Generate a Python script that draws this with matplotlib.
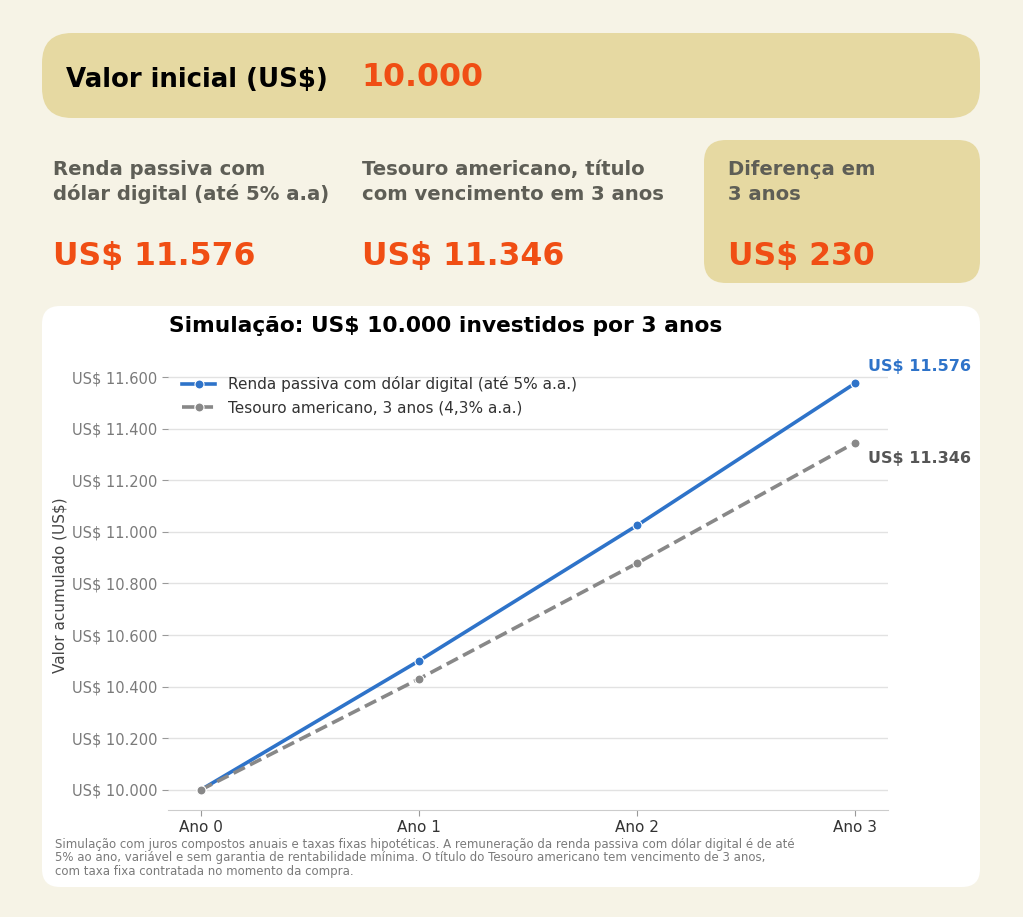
import matplotlib
matplotlib.use("Agg")
import matplotlib.pyplot as plt
from matplotlib.patches import FancyBboxPatch
from matplotlib.ticker import FuncFormatter

# -------------------------------------------------
# Data
# -------------------------------------------------
anos = ["Ano 0", "Ano 1", "Ano 2", "Ano 3"]
renda_passiva = [10000, 10500, 11025, 11576.25]
tesouro = [10000, 10430, 10878.49, 11346.26]

valor_inicial = "10.000"
card_labels = [
    "Renda passiva com\ndólar digital (até 5% a.a)",
    "Tesouro americano, título\ncom vencimento em 3 anos",
    "Diferença em\n3 anos",
]
card_values = ["US$ 11.576", "US$ 11.346", "US$ 230"]
serie_labels = [
    "Renda passiva com dólar digital (até 5% a.a.)",
    "Tesouro americano, 3 anos (4,3% a.a.)",
]
nota = ("Simulação com juros compostos anuais e taxas fixas hipotéticas. "
        "A remuneração da renda passiva com dólar digital é de até\n"
        "5% ao ano, variável e sem garantia de rentabilidade mínima. "
        "O título do Tesouro americano tem vencimento de 3 anos,\n"
        "com taxa fixa contratada no momento da compra.")

# -------------------------------------------------
# Style
# -------------------------------------------------
BG = "#F6F3E6"
BOX = "#E6D9A2"
ORANGE = "#F04E14"
BLUE = "#2E73C9"
GRAY_LINE = "#888888"

W, H = 1023, 917
fig = plt.figure(figsize=(W / 100, H / 100), dpi=100, facecolor=BG)

# background layer in pixel coordinates
bg = fig.add_axes([0, 0, 1, 1])
bg.set_xlim(0, W)
bg.set_ylim(H, 0)
bg.axis("off")


def rounded(x0, y0, x1, y1, color, r=24):
    bg.add_patch(FancyBboxPatch((x0, y0), x1 - x0, y1 - y0,
                                boxstyle=f"round,pad=0,rounding_size={r}",
                                facecolor=color, edgecolor="none"))


rounded(42, 33, 980, 118, BOX, r=30)
rounded(704, 140, 980, 283, BOX, r=22)
rounded(42, 306, 980, 887, "white", r=18)

# -------------------------------------------------
# Header
# -------------------------------------------------
bg.text(66, 80, "Valor inicial (US$)", fontsize=18.7, fontweight="bold",
        color="black", va="center")
bg.text(361, 78, valor_inicial, fontsize=22.8, fontweight="bold",
        color=ORANGE, va="center")

card_x = [53, 362, 728]
for x, lab, val in zip(card_x, card_labels, card_values):
    bg.text(x, 182, lab, fontsize=14.1, fontweight="bold",
            color="#5E5E56", va="center", linespacing=1.35)
    bg.text(x, 256, val, fontsize=22.7, fontweight="bold",
            color=ORANGE, va="center")

# -------------------------------------------------
# Chart
# -------------------------------------------------
ax_l, ax_r, ax_t, ax_b = 168, 888, 360, 810
ax = fig.add_axes([ax_l / W, 1 - ax_b / H, (ax_r - ax_l) / W, (ax_b - ax_t) / H])
ax.set_facecolor("white")

x = list(range(len(anos)))
ax.plot(x, renda_passiva, color=BLUE, lw=2.6, marker="o", ms=6.5,
        mec="white", mew=0.8, label=serie_labels[0], zorder=3)
ax.plot(x, tesouro, color=GRAY_LINE, lw=2.6, ls=(0, (3.5, 1.6)), marker="o",
        ms=6.5, mec="white", mew=0.8, label=serie_labels[1], zorder=3)

ax.set_xlim(-0.15, 3.15)
ax.set_ylim(9922, 11666)
ax.set_xticks(x)
ax.set_xticklabels(anos, fontsize=11, color="#333333")
ax.set_yticks(range(10000, 11601, 200))
ax.yaxis.set_major_formatter(
    FuncFormatter(lambda v, p: "US$ " + f"{int(v):,}".replace(",", ".")))
ax.tick_params(axis="y", labelsize=10.5, length=4, color="#999999")
ax.tick_params(axis="x", length=4, color="#999999")
for lbl in ax.get_yticklabels():
    lbl.set_color("#7a7a7a")
ax.grid(axis="y", color="#E2E2E2", lw=1)
ax.set_axisbelow(True)
for side in ["top", "right", "left"]:
    ax.spines[side].set_visible(False)
ax.spines["bottom"].set_color("#CCCCCC")

ax.set_ylabel("Valor acumulado (US$)", fontsize=11, color="#444444", labelpad=3)
ax.set_title("Simulação: US$ 10.000 investidos por 3 anos", loc="left",
             fontsize=15.7, fontweight="bold", pad=20, x=0.002)

leg = ax.legend(loc="upper left", frameon=False, fontsize=11,
                bbox_to_anchor=(0.0, 0.995), handlelength=2.2,
                labelspacing=0.55)
for t in leg.get_texts():
    t.set_color("#333333")

ax.annotate(card_values[0], (x[-1], renda_passiva[-1]), xytext=(9, 12),
            textcoords="offset points", fontsize=11.5, fontweight="bold",
            color=BLUE, ha="left", va="center", annotation_clip=False)
ax.annotate(card_values[1], (x[-1], tesouro[-1]), xytext=(9, -11.5),
            textcoords="offset points", fontsize=11.5, fontweight="bold",
            color="#555555", ha="left", va="center", annotation_clip=False)

bg.text(55, 858, nota, fontsize=8.45, color="#7a7a7a", va="center",
        linespacing=1.08)

fig.savefig("out.png", dpi=100, facecolor=BG)
